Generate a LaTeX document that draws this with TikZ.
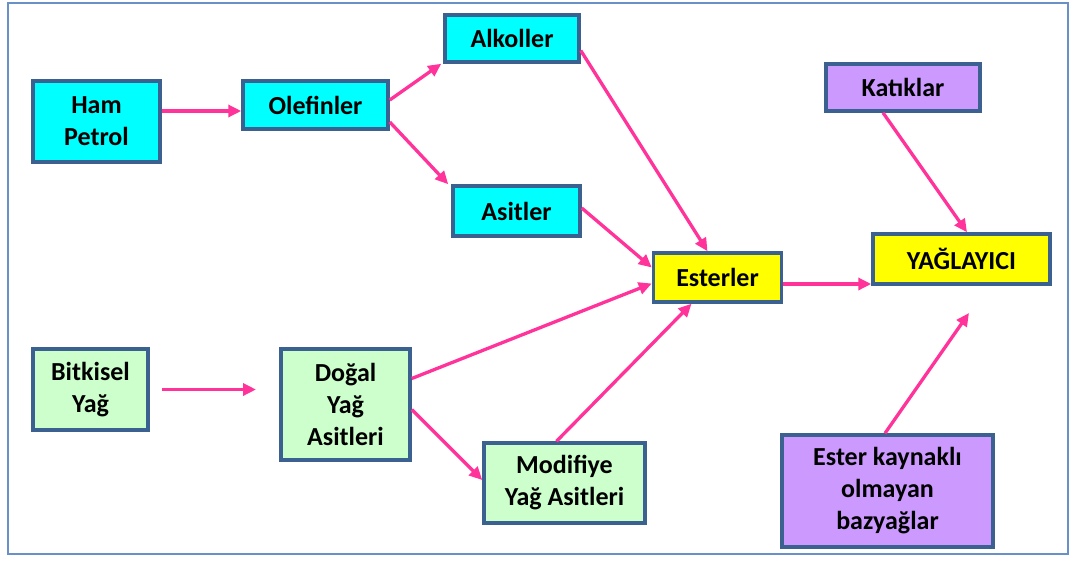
\documentclass[tikz,border=0pt]{standalone}
\usepackage{fontspec}
\setmainfont{Carlito}
\usetikzlibrary{arrows.meta}

\begin{document}
\begin{tikzpicture}[x=1pt, y=-1pt,
    box/.style={draw=borderColour, line width=3.5pt, align=center, inner sep=0pt,
        font=\fontsize{26}{32}\selectfont\bfseries},
    petrolbox/.style={box, fill=fillColourPetrol},
    bitkibox/.style={box, fill=fillColourBitki},
    esterbox/.style={box, fill=fillColourEster},
    katkibox/.style={box, fill=fillColourKatki},
    arr/.style={draw=arrowColour, line width=3.3pt, -{Triangle[length=13pt,width=12pt]}}]
    \definecolor{borderColour}{HTML}{3B6191}
    \definecolor{frameColour}{HTML}{6A90C8}
    \definecolor{fillColourPetrol}{HTML}{00FFFF}
    \definecolor{fillColourBitki}{HTML}{CCFFCC}
    \definecolor{fillColourEster}{HTML}{FFFF00}
    \definecolor{fillColourKatki}{HTML}{CC99FF}
    \definecolor{arrowColour}{HTML}{FF3399}

    \useasboundingbox (0,0) rectangle (1081,560);

    % Draw frame
    \draw[frameColour, line width=2pt] (8,3) rectangle (1068,554);

    % Petrol route
    \node[petrolbox, minimum width=127, minimum height=81] (ham) at (96.5,121.5) {Ham\\Petrol};
    \node[petrolbox, minimum width=145, minimum height=48] (olefin) at (315.5,105) {Olefinler};
    \node[petrolbox, minimum width=134, minimum height=47] (alkol) at (512,38.5) {Alkoller};
    \node[petrolbox, minimum width=127, minimum height=50] (asit) at (516.5,211) {Asitler};

    % Vegetable route
    \node[bitkibox, minimum width=115, minimum height=81] (bitkisel) at (90.5,389.5) {Bitkisel\\Yağ};
    \node[bitkibox, minimum width=129, minimum height=111] (dogal) at (345.5,404.5) {Doğal\\Yağ\\Asitleri};
    \node[bitkibox, minimum width=161, minimum height=80] (modifiye) at (564.5,483) {Modifiye\\Yağ Asitleri};

    % Esters and lubricant
    \node[esterbox, minimum width=128, minimum height=49] (ester) at (717.5,277.5) {Esterler};
    \node[esterbox, minimum width=177, minimum height=50] (yaglayici) at (961.5,259) {YAĞLAYICI};
    \node[katkibox, minimum width=154, minimum height=47] (katik) at (903,87.5) {Katıklar};
    \node[katkibox, minimum width=211, minimum height=112] (bazyag) at (887.5,491) {Ester kaynaklı\\olmayan\\bazyağlar};

    % Free arrow ends
    \coordinate (bitkiselUc) at (256,389.5);
    \coordinate (yaglayiciAlt) at (969,313);

    % Draw arrows
    \draw[arr] ([yshift=10.5pt]ham.east) -- ([yshift=10.5pt]ham.east -| olefin.west);
    \draw[arr] ([yshift=5pt]olefin.east) -- ([xshift=-2pt]alkol.south west);
    \draw[arr] ([yshift=-17pt]olefin.east) -- ([xshift=-3pt]asit.north west);
    \draw[arr] ([yshift=-12pt]alkol.east) -- ([xshift=-10pt]ester.north);
    \draw[arr] ([yshift=3pt]asit.east) -- ([yshift=10pt]ester.west);
    \draw[arr] ([yshift=26pt]dogal.east) -- ([yshift=-6pt]ester.west);
    \draw[arr] ([yshift=-5pt]dogal.east) -- ([yshift=3pt]modifiye.west);
    \draw[arr] ([xshift=-8pt]modifiye.north) -- ([xshift=-26pt]ester.south);
    \draw[arr] ([xshift=12pt]bitkisel.east) -- (bitkiselUc);
    \draw[arr] ([yshift=-6.5pt]ester.east) -- ([yshift=-6.5pt]ester.east -| yaglayici.west);
    \draw[arr] ([xshift=-20pt]katik.south) -- ([xshift=5.5pt]yaglayici.north);
    \draw[arr] ([xshift=-2.5pt]bazyag.north) -- (yaglayiciAlt);

\end{tikzpicture}
\end{document}
